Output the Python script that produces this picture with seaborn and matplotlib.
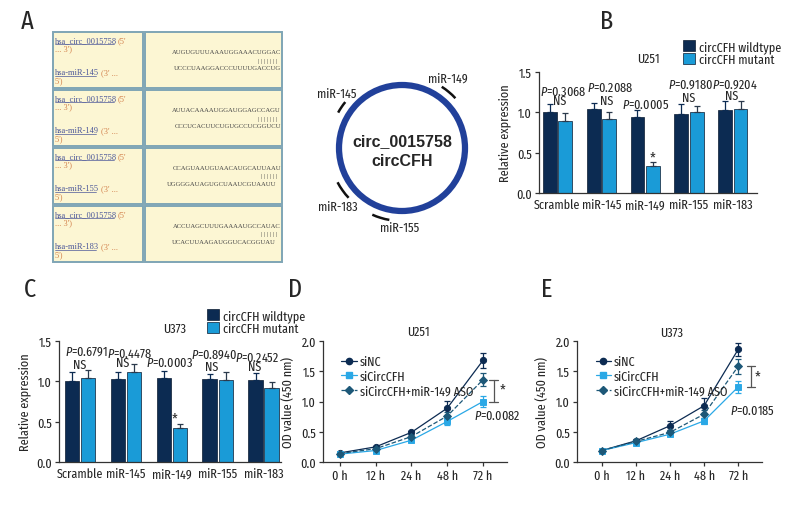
import numpy as np
import pandas as pd
import seaborn as sns
import matplotlib.pyplot as plt
from matplotlib.patches import Rectangle, Circle, Arc, Patch
from matplotlib.lines import Line2D
from matplotlib.ticker import FormatStrFormatter

# ---- data ----
mirnas = ['Scramble', 'miR-145', 'miR-149', 'miR-155', 'miR-183']
types = ['circCFH wildtype', 'circCFH mutant']

u251_wt = [1.01, 1.04, 0.94, 0.98, 1.03]
u251_wt_err = [0.09, 0.07, 0.09, 0.12, 0.11]
u251_mut = [0.89, 0.92, 0.34, 1.00, 1.04]
u251_mut_err = [0.10, 0.09, 0.04, 0.08, 0.10]
u251_p = ['0.3068', '0.2088', '0.0005', '0.9180', '0.9204']

u373_wt = [1.01, 1.03, 1.04, 1.025, 1.02]
u373_wt_err = [0.10, 0.08, 0.09, 0.07, 0.08]
u373_mut = [1.045, 1.11, 0.425, 1.02, 0.917]
u373_mut_err = [0.10, 0.10, 0.05, 0.09, 0.08]
u373_p = ['0.6791', '0.4478', '0.0003', '0.8940', '0.2452']

times = ['0 h', '12 h', '24 h', '48 h', '72 h']
groups = ['siNC', 'siCircCFH', 'siCircCFH+miR-149 ASO']
d_vals = {'siNC': [0.15, 0.25, 0.49, 0.89, 1.68],
          'siCircCFH': [0.13, 0.19, 0.36, 0.67, 1.00],
          'siCircCFH+miR-149 ASO': [0.14, 0.22, 0.42, 0.76, 1.36]}
d_errs = {'siNC': [0.02, 0.02, 0.03, 0.12, 0.12],
          'siCircCFH': [0.02, 0.02, 0.03, 0.06, 0.09],
          'siCircCFH+miR-149 ASO': [0.02, 0.02, 0.03, 0.07, 0.11]}
e_vals = {'siNC': [0.19, 0.35, 0.60, 0.93, 1.86],
          'siCircCFH': [0.19, 0.32, 0.46, 0.68, 1.24],
          'siCircCFH+miR-149 ASO': [0.19, 0.34, 0.49, 0.79, 1.58]}
e_errs = {'siNC': [0.02, 0.03, 0.07, 0.12, 0.11],
          'siCircCFH': [0.02, 0.02, 0.03, 0.05, 0.10],
          'siCircCFH+miR-149 ASO': [0.02, 0.02, 0.04, 0.07, 0.13]}

circ_name = 'hsa_circ_0015758'
table_mirs = ['hsa-miR-145', 'hsa-miR-149', 'hsa-miR-155', 'hsa-miR-183']
seq_top = ['AUGUGUUUAAAUGGAAACUGGAC', 'AUUACAAAAUGGAUGGAGCCAGU',
           'CCAGUAAUGUAACAUGCAUUAAU', 'ACCUAGCUUUGAAAAUGCCAUAC']
seq_pairs = ['| | | | | | |', '| | | | | | |', '| | | | | |', '| | | | | |']
seq_bottom = ['UCCCUAAGGACCCUUUUGACCUG', 'CCCUCACUUCUGUGCCUCGGUCU',
              'UGGGGAUAGUGCUAAUCGUAAUU', 'UCACUUAAGAUGGUCACGGUAU']
site_labels = ['miR-149', 'miR-145', 'miR-183', 'miR-155']

# ---- style ----
sns.set_style('ticks')
cond = 'Fira Sans Extra Condensed'
plt.rcParams['font.family'] = [cond, 'Fira Sans Condensed', 'Liberation Sans', 'DejaVu Sans']
plt.rcParams['mathtext.fontset'] = 'custom'
plt.rcParams['mathtext.it'] = cond + ':italic'
plt.rcParams['mathtext.rm'] = cond
FS = 9.5
plt.rcParams['font.size'] = FS

navy = '#0c2b52'
blue = '#1a9bd7'
teal = '#1d5878'
light = '#2aa8e6'
axcol = '#333333'

W, H = 798, 510
fig = plt.figure(figsize=(W / 100, H / 100), dpi=100)

bg = fig.add_axes([0, 0, 1, 1])
bg.set_xlim(0, W)
bg.set_ylim(H, 0)
bg.axis('off')


def fax(l, t, r, b):
    return fig.add_axes([l / W, 1 - b / H, (r - l) / W, (b - t) / H])


# ---- panel A: table ----
serif = ['Liberation Serif', 'DejaVu Serif']
link = '#4a5699'
orange = '#d2814c'
for i in range(4):
    y0 = 33 + 58 * i
    bg.add_patch(Rectangle((53, y0), 90, 56, fc='#fcf6d3', ec='#7fa5b5', lw=1.4))
    bg.add_patch(Rectangle((145, y0), 137, 56, fc='#fcf6d3', ec='#7fa5b5', lw=1.4))
    bg.text(55, y0 + 8, circ_name, family=serif, fontsize=6, color=link, va='center')
    bg.plot([55, 114], [y0 + 11.5, y0 + 11.5], color=link, lw=0.5)
    bg.text(118, y0 + 8, "(5'", family=serif, fontsize=6, color=orange, va='center')
    bg.text(55, y0 + 16.5, "... 3')", family=serif, fontsize=6, color=orange, va='center')
    bg.text(55, y0 + 40, table_mirs[i], family=serif, fontsize=6, color=link, va='center')
    bg.plot([55, 96], [y0 + 43.5, y0 + 43.5], color=link, lw=0.5)
    bg.text(101, y0 + 40, "(3' ...", family=serif, fontsize=6, color=orange, va='center')
    bg.text(55, y0 + 48.5, "5')", family=serif, fontsize=6, color=orange, va='center')
    bg.text(281, y0 + 20, seq_top[i], family=serif, fontsize=4.8, color='#444444',
            va='center', ha='right')
    bg.text(277, y0 + 28, seq_pairs[i], family=serif, fontsize=4.8, color='#444444',
            va='center', ha='right')
    rx = 281 if i < 2 else 276
    bg.text(rx, y0 + 36, seq_bottom[i], family=serif, fontsize=4.8, color='#444444',
            va='center', ha='right')

# ---- panel A: circle ----
cx, cy = 402, 149
bg.add_patch(Circle((cx, cy), 63, fill=False, ec='#21409a', lw=4.5))
bg.text(cx, 142, 'circ_0015758', family=['Liberation Sans', 'DejaVu Sans'],
        fontweight='bold', fontsize=11.5, ha='center', va='center')
bg.text(cx, 162, 'circCFH', family=['Liberation Sans', 'DejaVu Sans'],
        fontweight='bold', fontsize=11.5, ha='center', va='center')
arc_angles = [(43, 57), (141, 151), (208, 223), (246, 260)]
label_pos = [(448, 79), (337, 94), (338, 207), (400, 228)]
for (a1, a2), lab, (lx, ly) in zip(arc_angles, site_labels, label_pos):
    bg.add_patch(Arc((cx, cy), 146, 146, theta1=-a2, theta2=-a1, color='#111111', lw=1.8))
    bg.text(lx, ly, lab, fontsize=FS, ha='center', va='center')

for letter, (lx, ly) in zip('ABCDE', [(27, 22), (607, 22), (30, 290), (295, 290), (547, 290)]):
    bg.text(lx, ly, letter, fontsize=19, ha='center', va='center')


def style_axis(ax):
    sns.despine(ax=ax)
    for s in ['left', 'bottom']:
        ax.spines[s].set_color(axcol)
        ax.spines[s].set_linewidth(0.9)
    ax.tick_params(length=3, width=0.9, color=axcol, labelsize=FS, pad=2)
    ax.yaxis.set_major_formatter(FormatStrFormatter('%.1f'))


def bar_panel(ax, wt, wt_err, mut, mut_err, title, tpos, xlim):
    df = pd.DataFrame({'miRNA': mirnas * 2,
                       'type': [types[0]] * 5 + [types[1]] * 5,
                       'value': wt + mut})
    sns.barplot(data=df, x='miRNA', y='value', hue='type', palette=[navy, blue],
                saturation=1, width=0.7, gap=0.1, errorbar=None, edgecolor='#0a1a30',
                linewidth=0.5, legend=False, ax=ax)
    for cont, errs, col in zip(ax.containers, [wt_err, mut_err], [navy, '#2b3a4c']):
        xs = [p.get_x() + p.get_width() / 2 for p in cont]
        ys = [p.get_height() for p in cont]
        ax.errorbar(xs, ys, yerr=[np.zeros(5), errs], fmt='none', ecolor=col,
                    elinewidth=0.9, capsize=2.5, capthick=0.9)
    ax.set_ylim(0, 1.5)
    ax.set_yticks([0, 0.5, 1.0, 1.5])
    ax.set_xlim(*xlim)
    ax.set_xlabel('')
    ax.set_ylabel('Relative expression', fontsize=FS, labelpad=4)
    style_axis(ax)
    ax.tick_params(axis='x', length=0, pad=4)
    ax.text(tpos[0], tpos[1], title, transform=ax.transAxes, ha='center', va='center',
            fontsize=FS)


def legend_bars(ax, x, y):
    handles = [Patch(fc=navy, ec='#0a1a30', lw=0.5), Patch(fc=blue, ec='#0a1a30', lw=0.5)]
    ax.legend(handles, types, loc='upper left', bbox_to_anchor=(x / W, 1 - y / H),
              bbox_transform=fig.transFigure, frameon=False, fontsize=FS,
              handlelength=0.9, handleheight=0.9, handletextpad=0.3,
              labelspacing=0.05, borderpad=0, borderaxespad=0)


# ---- panel B ----
axB = fax(539, 73, 757, 194)
bar_panel(axB, u251_wt, u251_wt_err, u251_mut, u251_mut_err, 'U251', (0.5, 1.116), (-0.42, 4.55))
legend_bars(axB, 683, 41)
b_ppos = [(0.14, 1.26), (1.21, 1.31), (2.0, 1.10), (3.03, 1.35), (4.04, 1.35)]
b_nspos = [(0.05, 1.15), (1.12, 1.15), None, (3.0, 1.18), (3.97, 1.21)]
for p, pp, ns in zip(u251_p, b_ppos, b_nspos):
    axB.text(pp[0], pp[1], '$P$=' + p, ha='center', va='center', fontsize=FS)
    if ns:
        axB.text(ns[0], ns[1], 'NS', ha='center', va='center', fontsize=FS)
axB.text(2.18, 0.44, '*', ha='center', va='center', fontsize=11)

# ---- panel C ----
axC = fax(59, 342, 281, 463)
bar_panel(axC, u373_wt, u373_wt_err, u373_mut, u373_mut_err, 'U373', (0.52, 1.107), (-0.46, 4.38))
legend_bars(axC, 207, 310)
c_ppos = [(0.13, 1.38), (1.07, 1.35), (1.94, 1.24), (2.92, 1.34), (3.86, 1.30)]
c_nspos = [(0.0, 1.21), (0.93, 1.23), None, (2.87, 1.18), (3.81, 1.18)]
for p, pp, ns in zip(u373_p, c_ppos, c_nspos):
    axC.text(pp[0], pp[1], '$P$=' + p, ha='center', va='center', fontsize=FS)
    if ns:
        axC.text(ns[0], ns[1], 'NS', ha='center', va='center', fontsize=FS)
axC.text(2.07, 0.54, '*', ha='center', va='center', fontsize=11)

# ---- panels D, E ----
line_cols = [navy, light, teal]
line_marks = ['o', 's', 'D']
line_styles = ['-', '-', '--']


def line_panel(ax, vals, errs, title, tpos, xlim, brk, star, ptxt, ppos):
    df = pd.DataFrame({'time': times * 3,
                       'group': [g for g in groups for _ in times],
                       'value': sum([vals[g] for g in groups], [])})
    sns.pointplot(data=df, x='time', y='value', hue='group', palette=line_cols,
                  markers=line_marks, linestyles=line_styles, errorbar=None,
                  markersize=4.5, linewidth=0.9, legend=False, ax=ax)
    for g, col in zip(groups, line_cols):
        ax.errorbar(np.arange(len(times)), vals[g], yerr=errs[g], fmt='none',
                    ecolor=col, elinewidth=0.9, capsize=2.5, capthick=0.9, zorder=1)
    ax.set_ylim(0, 2.0)
    ax.set_yticks([0, 0.5, 1.0, 1.5, 2.0])
    ax.set_xlim(*xlim)
    ax.set_xlabel('')
    ax.set_ylabel('OD value (450 nm)', fontsize=FS, labelpad=4)
    style_axis(ax)
    ax.text(tpos[0], tpos[1], title, transform=ax.transAxes, ha='center', va='center',
            fontsize=FS)
    bx, by1, by2, bw = brk
    ax.plot([bx, bx], [by1, by2], color='#555555', lw=0.9)
    ax.plot([bx - bw, bx + bw], [by1, by1], color='#555555', lw=0.9)
    ax.plot([bx - bw, bx + bw], [by2, by2], color='#555555', lw=0.9)
    ax.text(star[0], star[1], '*', ha='center', va='center', fontsize=11)
    ax.text(ppos[0], ppos[1], '$P$=' + ptxt, ha='center', va='center', fontsize=FS)
    handles = [Line2D([0], [0], color=c, marker=m, ls=s, lw=0.9, markersize=4.5)
               for c, m, s in zip(line_cols, line_marks, line_styles)]
    ax.legend(handles, groups, loc='upper left', bbox_to_anchor=(0.1, 0.88),
              frameon=False, fontsize=FS, handlelength=1.2, handletextpad=0.2,
              labelspacing=0.15, borderpad=0, borderaxespad=0)


axD = fax(323, 342, 507, 463)
line_panel(axD, d_vals, d_errs, 'U251', (0.516, 1.083), (-0.47, 4.67),
           (4.3, 1.0, 1.36, 0.12), (4.55, 1.2), '0.0082', (4.4, 0.78))
axE = fax(577, 342, 762, 463)
line_panel(axE, e_vals, e_errs, 'U373', (0.514, 1.074), (-0.73, 4.7),
           (4.37, 1.24, 1.58, 0.12), (4.58, 1.41), '0.0185', (4.41, 0.85))

fig.savefig('out.png', dpi=100)
